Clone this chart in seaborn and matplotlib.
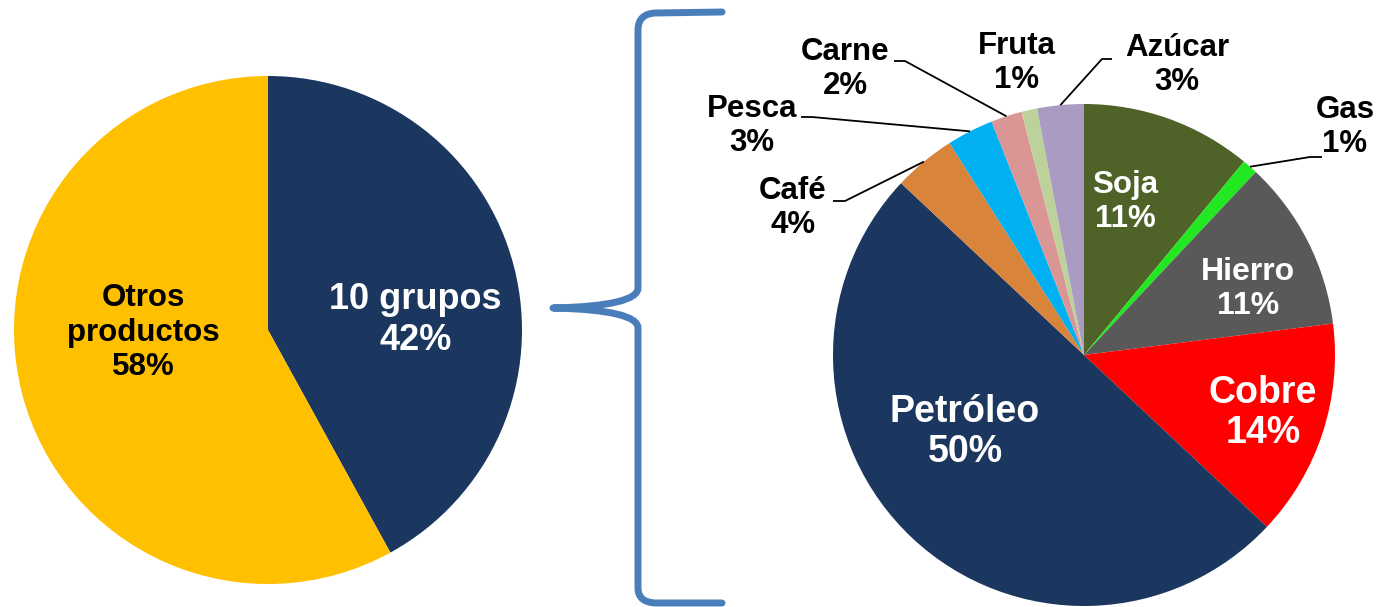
import numpy as np
import matplotlib
matplotlib.use("Agg")
import matplotlib.pyplot as plt
import seaborn as sns
from matplotlib.path import Path
from matplotlib.patches import PathPatch

# left pie: share of the 10 product groups
left_labels = ["10 grupos", "Otros\nproductos"]
left_values = [42, 58]
left_colors = ["#1B375F", "#FFC000"]

# right pie: breakdown of the 10 groups (clockwise from 12 o'clock)
right_labels = ["Soja", "Gas", "Hierro", "Cobre", "Petróleo",
                "Café", "Pesca", "Carne", "Fruta", "Azúcar"]
right_values = [11, 1, 11, 14, 50, 4, 3, 2, 1, 3]
right_colors = ["#4F6228", "#22E822", "#595959", "#FF0000", "#1B375F",
                "#D9843B", "#00B0F0", "#D99694", "#BDD29A", "#A99BC2"]

W, H = 1381, 607

sns.set_theme(style="white")
plt.rcParams["font.family"] = ["Liberation Sans", "DejaVu Sans"]
plt.rcParams["font.weight"] = "bold"

fig = plt.figure(figsize=(W / 100, H / 100), dpi=100)


def px_axes(cx, cy, r):
    # axes square around a centre given in pixels (y from the top)
    return fig.add_axes([(cx - r) / W, (H - cy - r) / H, 2 * r / W, 2 * r / H])


# ---- left pie ----
axl = px_axes(268, 330, 254)
axl.pie(left_values, colors=left_colors, startangle=90, counterclock=False,
        radius=1, wedgeprops=dict(linewidth=0))
axl.set_xlim(-1, 1)
axl.set_ylim(-1, 1)
axl.axis("off")

left_pos = [(0.58, 0.04), (-0.49, -0.01)]
left_txtcol = ["white", "black"]
left_size = [26, 22.5]
for lab, val, pos, c, fs in zip(left_labels, left_values, left_pos, left_txtcol, left_size):
    axl.text(pos[0], pos[1], f"{lab}\n{val}%", ha="center", va="center",
             multialignment="center", color=c, fontsize=fs, fontweight="bold",
             linespacing=1.2)

# ---- right pie ----
R = 251
axr = px_axes(1084, 355, R)
axr.pie(right_values, colors=right_colors, startangle=90, counterclock=False,
        radius=1, wedgeprops=dict(linewidth=0))
axr.set_xlim(-1, 1)
axr.set_ylim(-1, 1)
axr.axis("off")


def d(px, py):
    # pixel position -> right-axes data coordinates
    return (px - 1084) / R, (355 - py) / R


# label positions (pixels), text colour, size, leader line end (None = no line)
label_layout = {
    "Soja": ((1125, 202), "white", 22.5, None),
    "Gas": ((1345, 127), "black", 22.5, ((1310, 157), (1322, 157))),
    "Hierro": ((1248, 289), "white", 23, None),
    "Cobre": ((1263, 413), "white", 27, None),
    "Petróleo": ((965, 432), "white", 27, None),
    "Café": ((793, 208), "black", 22.5, ((845, 201), (833, 201))),
    "Pesca": ((752, 126), "black", 22.5, ((812, 117), (801, 117))),
    "Carne": ((845, 69), "black", 22.5, ((905, 61), (894, 61))),
    "Fruta": ((1017, 63), "black", 22.5, None),
    "Azúcar": ((1177, 65), "black", 22.5, ((1102, 59), (1112, 59))),
}

cum = np.cumsum([0] + right_values)
total = cum[-1]
for i, lab in enumerate(right_labels):
    val = right_values[i]
    (px, py), c, fs, leader = label_layout[lab]
    x, y = d(px, py)
    axr.text(x, y, f"{lab}\n{val}%", ha="center", va="center",
             multialignment="center", color=c, fontsize=fs, fontweight="bold",
             linespacing=1.2 if fs < 25 else 1.15)
    if leader is not None:
        mid = (cum[i] + cum[i + 1]) / 2 / total
        ang = np.deg2rad(90 - 360 * mid)
        x0, y0 = np.cos(ang), np.sin(ang)
        (ax1, ay1), (ax2, ay2) = leader
        x1, y1 = d(ax1, ay1)
        x2, y2 = d(ax2, ay2)
        axr.plot([x0, x1, x2], [y0, y1, y2], color="black", lw=1.3,
                 clip_on=False, solid_capstyle="butt")

# ---- curly brace between the pies ----
pts = [(722, 12), (655, 13), (638, 14), (638, 30),
       (638, 288), (638, 306), (553, 308),
       (638, 310), (638, 328),
       (638, 588), (638, 602), (655, 603), (722, 603)]
codes = [Path.MOVETO, Path.LINETO, Path.CURVE3, Path.CURVE3,
         Path.LINETO, Path.CURVE3, Path.CURVE3,
         Path.CURVE3, Path.CURVE3,
         Path.LINETO, Path.CURVE3, Path.CURVE3, Path.LINETO]
verts = [(x / W, (H - y) / H) for x, y in pts]
brace = PathPatch(Path(verts, codes), facecolor="none", edgecolor="#4A7EBB",
                  lw=5, transform=fig.transFigure, capstyle="round",
                  joinstyle="round")
fig.add_artist(brace)

fig.savefig("out.png", dpi=100, facecolor="white")
